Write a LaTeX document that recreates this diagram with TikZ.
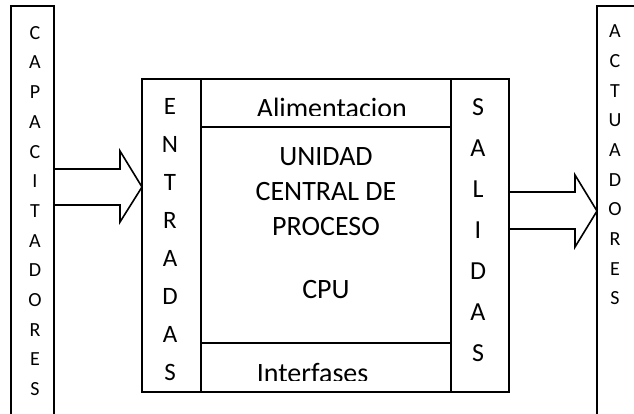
\documentclass[tikz,border=0pt]{standalone}
\usepackage{fontspec}
\setmainfont{Carlito}
\begin{document}
\begin{tikzpicture}[x=1pt,y=-1pt,line width=1.6pt,
  region/.style={draw,rectangle,inner sep=0pt,outer sep=0pt,anchor=north west},
  openbox/.style={rectangle,inner sep=0pt,outer sep=0pt,anchor=north west},
  blockarrow/.style={draw,line width=1.6pt,line join=miter},
  smallcol/.style={align=center,inner sep=0pt,font=\fontsize{20}{29.7}\selectfont},
  bigtext/.style={inner sep=0pt,font=\fontsize{28}{35}\selectfont}]
\useasboundingbox (0,0) rectangle (634,414);
% outer open boxes
\node[openbox,minimum width=43pt,minimum height=420pt] (cap) at (11,6) {};
\draw (cap.south west) -- (cap.north west) -- (cap.north east) -- (cap.south east);
\node[openbox,minimum width=60pt,minimum height=420pt] (act) at (597,6) {};
\draw (act.south west) -- (act.north west) -- (act.north east);
% main block
\node[region,minimum width=59pt,minimum height=313pt] (ent) at (142,79) {};
\node[region,minimum width=58pt,minimum height=313pt] (sal) at (451,79) {};
\node[region,minimum width=250pt,minimum height=48pt] (ali) at (201,79) {};
\node[region,minimum width=250pt,minimum height=216pt] (cpu) at (201,127) {};
\node[region,minimum width=250pt,minimum height=49pt] (int) at (201,343) {};
% column texts
\node[smallcol] (capt) at (35,211) {C\\A\\P\\A\\C\\I\\T\\A\\D\\O\\R\\E\\S};
\node[smallcol] (actt) at (615,165) {A\\C\\T\\U\\A\\D\\O\\R\\E\\S};
\node[align=center,inner sep=0pt,font=\fontsize{25}{38}\selectfont] (entt) at (170,240) {E\\N\\T\\R\\A\\D\\A\\S};
\node[align=center,inner sep=0pt,font=\fontsize{26}{41}\selectfont] (salt) at (478,230) {S\\A\\L\\I\\D\\A\\S};
% central texts
\node[bigtext,align=center] (unit) at (326,192) {UNIDAD\\CENTRAL DE\\PROCESO};
\node[bigtext] (cput) at (326,290) {CPU};
\begin{scope}
  \clip (201,79) rectangle (451,116);
  \node[bigtext,anchor=base west] (alit) at (256,117.7) {Alimentacion};
\end{scope}
\begin{scope}
  \clip (201,343) rectangle (451,380);
  \node[bigtext,anchor=base west] (intt) at (256,382.7) {Interfases};
\end{scope}
% block arrows
\draw[blockarrow] (cap.east |- 0,169) -- (120,169) -- (120,151) -- (ent.west |- 0,187)
  -- (120,222) -- (120,205) -- (cap.east |- 0,205);
\draw[blockarrow] (sal.east |- 0,192) -- (575,192) -- (575,175) -- (act.west |- 0,211)
  -- (575,247) -- (575,229) -- (sal.east |- 0,229);
\end{tikzpicture}
\end{document}
